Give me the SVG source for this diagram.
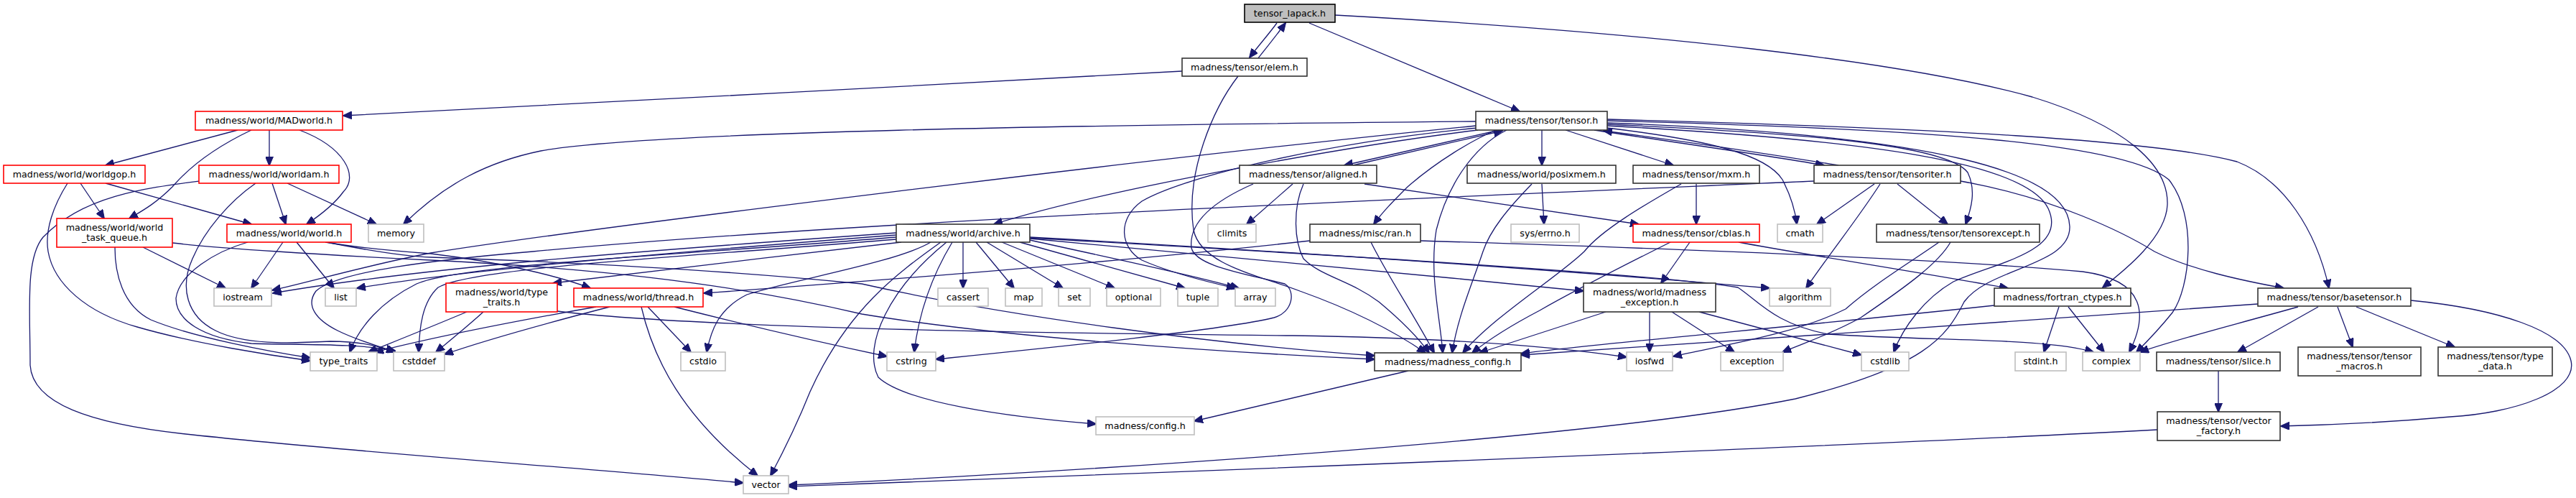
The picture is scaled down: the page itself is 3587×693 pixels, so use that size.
<svg xmlns="http://www.w3.org/2000/svg" width="3587" height="693" viewBox="0 0 3587 693">
<style>
.b{fill:#fff;stroke:#333;stroke-width:1.6}
.r{fill:#fff;stroke:#ff0000;stroke-width:1.6}
.g{fill:#fff;stroke:#bfbfbf;stroke-width:1.6}
.s{fill:#bfbfbf;stroke:#000;stroke-width:1.6}
text{font-family:"DejaVu Sans","Liberation Sans",sans-serif;font-size:12.7px;fill:#000;text-anchor:middle}
.e path{fill:none;stroke:#191970;stroke-width:1.3;marker-end:url(#a)}
</style>
<defs>
<marker id="a" markerWidth="13" markerHeight="11" refX="12" refY="5.5" orient="auto" markerUnits="userSpaceOnUse"><path d="M0,0 L13,5.5 L0,11 z" fill="#191970" stroke="#191970" stroke-width="1"/></marker>
</defs>
<rect width="3587" height="693" fill="#fff"/>
<g class="e" id="edges">
<path d="M1778,32 C1768,46 1752,64 1740,80"/>
<path d="M1752,81 C1763,67 1779,47 1790,32"/>
<path d="M1823,32 L2116,155"/>
<path d="M1859,21 C2300,45 2650,85 2830,135 C2960,175 3020,230 3018,285 C3016,330 2960,375 2928,400"/>
<path d="M1646,99 C1300,118 800,145 478,161"/>
<path d="M1724,106 C1690,150 1650,240 1662,320 C1672,370 1760,385 1810,405 C1880,430 1940,460 1985,491"/>
<path d="M2055,169 C1500,174 900,183 753,210 C680,225 620,255 562,312"/>
<path d="M2055,175 C1600,220 800,320 600,352 C520,367 440,390 379,404"/>
<path d="M2058,181 C1900,200 1550,260 1384,312"/>
<path d="M2057,178 C1850,198 1650,245 1590,280 C1555,305 1560,345 1590,362 C1630,380 1680,392 1720,401"/>
<path d="M2088,181 L1872,230"/>
<path d="M1884,230 L2092,182"/>
<path d="M2147,181 L2147,230"/>
<path d="M2180,181 L2330,230"/>
<path d="M2083,181 C2050,195 2000,225 1960,260 C1940,280 1925,295 1913,312"/>
<path d="M2098,181 C2050,205 2015,260 2000,320 C1990,380 2005,440 2009,491"/>
<path d="M2220,181 C2330,198 2440,213 2540,230"/>
<path d="M2560,230 C2450,212 2340,196 2233,182"/>
<path d="M2238,178 C2380,195 2460,215 2482,250 C2495,275 2500,295 2502,312"/>
<path d="M2238,173 C2500,185 2710,200 2740,240 C2752,265 2745,290 2737,312"/>
<path d="M2238,175 C2600,195 2820,225 2852,290 C2880,350 2780,365 2720,392 C2680,415 2650,455 2637,490"/>
<path d="M2238,171 C2700,188 2880,240 2882,315 C2884,370 2770,372 2735,420 C2710,470 2680,510 2500,555 C2200,615 1400,662 1098,675"/>
<path d="M2238,168 C2700,180 2960,200 3020,250 C3060,300 3050,400 3025,435 C3005,460 2990,475 2975,490"/>
<path d="M2238,166 C2700,178 3000,195 3115,225 C3180,250 3225,320 3243,401"/>
<path d="M1800,256 L1736,312"/>
<path d="M1815,256 C1800,290 1802,335 1815,360 C1840,385 1880,390 1920,420 C1950,445 1975,470 1990,491"/>
<path d="M1745,256 C1690,280 1655,310 1659,345 C1665,370 1730,380 1789,395 C1805,405 1800,435 1774,442 C1700,460 1450,485 1303,500"/>
<path d="M1900,256 L2282,312"/>
<path d="M2147,256 L2150,312"/>
<path d="M2133,256 C2100,290 2075,320 2065,350 C2050,395 2030,440 2022,491"/>
<path d="M2362,256 L2362,312"/>
<path d="M2341,256 C2290,285 2230,320 2206,350 C2170,385 2080,440 2037,491"/>
<path d="M2610,256 L2530,312"/>
<path d="M2618,256 C2590,300 2550,350 2515,401"/>
<path d="M2642,256 L2712,312"/>
<path d="M2730,252 C2860,275 2960,325 3000,350 C3050,375 3120,390 3180,401"/>
<path d="M2526,252 C2000,275 1200,307 742,350 C600,362 470,378 440,405 C425,425 440,445 470,460 C500,475 530,482 550,490"/>
<path d="M1248,324 C950,345 600,370 380,408"/>
<path d="M1248,327 C950,350 650,375 497,401"/>
<path d="M1248,330 C950,355 640,368 580,395 C530,420 500,455 487,490"/>
<path d="M1248,333 C950,358 660,372 610,400 C588,420 584,455 583,490"/>
<path d="M1255,337 C1100,355 900,378 770,394"/>
<path d="M1341,337 L1341,401"/>
<path d="M1359,337 L1412,401"/>
<path d="M1374,337 L1480,401"/>
<path d="M1395,337 L1552,401"/>
<path d="M1420,337 L1650,401"/>
<path d="M1434,334 C1550,360 1650,380 1725,401"/>
<path d="M1326,337 C1300,380 1280,430 1273,490"/>
<path d="M1296,337 C1250,365 1100,390 1040,410 C1000,430 990,460 984,490"/>
<path d="M1310,337 C1250,380 1180,430 1128,545 C1110,590 1090,630 1073,662"/>
<path d="M1318,337 C1240,400 1200,480 1223,525 C1260,560 1400,580 1526,590"/>
<path d="M1434,332 C1700,355 1950,380 2205,405"/>
<path d="M1434,330 C1800,350 2200,378 2464,401"/>
<path d="M1434,331 C1800,352 2300,380 2420,400 C2450,420 2470,450 2545,465 C2700,475 2850,470 2915,490"/>
<path d="M1824,335 C1600,360 1300,385 980,408"/>
<path d="M1909,337 C1930,380 1970,440 1997,491"/>
<path d="M1978,335 C2300,345 2700,360 2900,378 C2990,390 2990,440 2965,490"/>
<path d="M2326,337 C2280,360 2200,400 2144,432 C2100,455 2070,475 2050,491"/>
<path d="M2353,337 L2313,394"/>
<path d="M2421,337 C2500,352 2650,375 2796,401"/>
<path d="M2700,337 C2660,365 2610,395 2570,430 C2500,465 2400,480 2330,496"/>
<path d="M2716,337 C2700,365 2660,395 2591,442 C2550,465 2510,478 2482,490"/>
<path d="M2236,434 L2060,491"/>
<path d="M2297,434 L2297,490"/>
<path d="M2328,434 L2415,490"/>
<path d="M2366,434 L2592,494"/>
<path d="M2777,425 C2500,455 2250,475 2118,492"/>
<path d="M2867,427 L2846,490"/>
<path d="M2880,427 L2930,490"/>
<path d="M3228,427 L3116,490"/>
<path d="M3255,427 L3276,483"/>
<path d="M3281,427 L3418,483"/>
<path d="M3357,418 C3480,430 3570,460 3580,502 C3590,545 3500,575 3412,580 C3300,590 3220,592 3176,593"/>
<path d="M3144,423 C2900,440 2400,476 2118,494"/>
<path d="M3200,427 C3100,455 3020,475 2980,490"/>
<path d="M3089,516 L3089,573"/>
<path d="M3004,598 C2500,625 1500,662 1098,677"/>
<path d="M1961,516 C1850,542 1750,565 1663,586"/>
<path d="M830,427 C700,450 600,470 522,490"/>
<path d="M849,427 C760,450 680,472 619,493"/>
<path d="M902,427 L962,490"/>
<path d="M893,427 C910,500 950,580 1055,662"/>
<path d="M939,427 C1050,455 1150,478 1235,496"/>
<path d="M650,434 C600,455 550,475 513,490"/>
<path d="M673,434 C650,455 625,475 607,490"/>
<path d="M776,433 C1000,460 1600,465 1800,467 C2000,470 2150,480 2265,497"/>
<path d="M331,181 L147,230"/>
<path d="M350,181 C310,200 270,225 240,260 C215,285 195,295 180,304"/>
<path d="M375,181 L375,230"/>
<path d="M417,181 C480,205 500,245 478,267 C465,285 445,300 427,312"/>
<path d="M112,255 L145,304"/>
<path d="M147,255 L350,312"/>
<path d="M94,255 C75,285 62,320 67,350 C75,395 120,435 191,455 C270,478 380,495 432,502"/>
<path d="M160,344 C160,380 170,425 210,445 C270,470 380,490 432,498"/>
<path d="M379,255 L398,312"/>
<path d="M400,255 L524,312"/>
<path d="M277,252 C200,262 115,273 60,330 C35,360 42,430 42,508 C45,560 120,590 268,605 C500,630 800,650 1035,672"/>
<path d="M356,255 C320,280 285,320 268,360 C250,400 260,440 300,460 C340,480 400,478 460,475 C500,475 530,482 550,490"/>
<path d="M199,344 L314,401"/>
<path d="M240,338 C300,345 450,355 600,362 C800,372 1000,390 1200,437 C1400,470 1700,490 1914,500"/>
<path d="M394,337 L350,401"/>
<path d="M413,337 L465,401"/>
<path d="M453,337 C500,345 560,350 600,353 C700,365 780,385 822,401"/>
<path d="M345,337 C300,350 250,380 245,415 C245,445 280,470 350,478 C420,480 500,478 550,488"/>
<path d="M455,337 C520,350 570,357 600,358 C800,365 1000,375 1200,395 C1400,440 1700,480 1914,495"/>
</g>
<g id="n_lapack"><rect class="s" x="1733" y="6" width="126" height="25"/><text x="1796" y="23">tensor_lapack.h</text></g>
<g id="n_elem"><rect class="b" x="1646" y="81" width="174" height="25"/><text x="1733" y="98">madness/tensor/elem.h</text></g>
<g id="n_madworld"><rect class="r" x="272" y="155" width="205" height="26"/><text x="374.5" y="172">madness/world/MADworld.h</text></g>
<g id="n_tensor"><rect class="b" x="2055" y="155" width="183" height="26"/><text x="2146.5" y="172">madness/tensor/tensor.h</text></g>
<g id="n_worldgop"><rect class="r" x="5" y="230" width="197" height="25"/><text x="103.5" y="247">madness/world/worldgop.h</text></g>
<g id="n_worldam"><rect class="r" x="277" y="230" width="195" height="25"/><text x="374.5" y="247">madness/world/worldam.h</text></g>
<g id="n_aligned"><rect class="b" x="1726" y="230" width="191" height="25"/><text x="1821.5" y="247">madness/tensor/aligned.h</text></g>
<g id="n_posixmem"><rect class="b" x="2043" y="230" width="207" height="25"/><text x="2146.5" y="247">madness/world/posixmem.h</text></g>
<g id="n_mxm"><rect class="b" x="2274" y="230" width="176" height="25"/><text x="2362" y="247">madness/tensor/mxm.h</text></g>
<g id="n_tensoriter"><rect class="b" x="2526" y="230" width="204" height="25"/><text x="2628" y="247">madness/tensor/tensoriter.h</text></g>
<g id="n_wtq"><rect class="r" x="79" y="304" width="161" height="40"/><text x="159.5" y="321">madness/world/world</text><text x="159.5" y="335">_task_queue.h</text></g>
<g id="n_world"><rect class="r" x="316" y="312" width="173" height="25"/><text x="402.5" y="329">madness/world/world.h</text></g>
<g id="n_memory"><rect class="g" x="513" y="312" width="77" height="25"/><text x="551.5" y="329">memory</text></g>
<g id="n_archive"><rect class="b" x="1248" y="312" width="186" height="25"/><text x="1341" y="329">madness/world/archive.h</text></g>
<g id="n_climits"><rect class="g" x="1682" y="312" width="67" height="25"/><text x="1715.5" y="329">climits</text></g>
<g id="n_ran"><rect class="b" x="1824" y="312" width="154" height="25"/><text x="1901" y="329">madness/misc/ran.h</text></g>
<g id="n_errno"><rect class="g" x="2104" y="312" width="95" height="25"/><text x="2151.5" y="329">sys/errno.h</text></g>
<g id="n_cblas"><rect class="r" x="2274" y="312" width="176" height="25"/><text x="2362" y="329">madness/tensor/cblas.h</text></g>
<g id="n_cmath"><rect class="g" x="2475" y="312" width="63" height="25"/><text x="2506.5" y="329">cmath</text></g>
<g id="n_tensorexcept"><rect class="b" x="2613" y="312" width="227" height="25"/><text x="2726.5" y="329">madness/tensor/tensorexcept.h</text></g>
<g id="n_iostream"><rect class="g" x="298" y="401" width="80" height="25"/><text x="338" y="418">iostream</text></g>
<g id="n_list"><rect class="g" x="453" y="401" width="43" height="25"/><text x="474.5" y="418">list</text></g>
<g id="n_wtypetraits"><rect class="r" x="621" y="394" width="155" height="40"/><text x="698.5" y="411">madness/world/type</text><text x="698.5" y="425">_traits.h</text></g>
<g id="n_thread"><rect class="r" x="799" y="401" width="180" height="26"/><text x="889" y="418">madness/world/thread.h</text></g>
<g id="n_cassert"><rect class="g" x="1306" y="401" width="70" height="25"/><text x="1341" y="418">cassert</text></g>
<g id="n_map"><rect class="g" x="1400" y="401" width="51" height="25"/><text x="1425.5" y="418">map</text></g>
<g id="n_set"><rect class="g" x="1474" y="401" width="44" height="25"/><text x="1496" y="418">set</text></g>
<g id="n_optional"><rect class="g" x="1541" y="401" width="75" height="25"/><text x="1578.5" y="418">optional</text></g>
<g id="n_tuple"><rect class="g" x="1640" y="401" width="56" height="25"/><text x="1668" y="418">tuple</text></g>
<g id="n_array"><rect class="g" x="1720" y="401" width="56" height="25"/><text x="1748" y="418">array</text></g>
<g id="n_mexc"><rect class="b" x="2205" y="394" width="184" height="40"/><text x="2297" y="411">madness/world/madness</text><text x="2297" y="425">_exception.h</text></g>
<g id="n_algorithm"><rect class="g" x="2464" y="401" width="85" height="25"/><text x="2506.5" y="418">algorithm</text></g>
<g id="n_fortran"><rect class="b" x="2777" y="401" width="190" height="25"/><text x="2872" y="418">madness/fortran_ctypes.h</text></g>
<g id="n_basetensor"><rect class="b" x="3144" y="401" width="213" height="25"/><text x="3250.5" y="418">madness/tensor/basetensor.h</text></g>
<g id="n_type_traits"><rect class="g" x="432" y="490" width="93" height="26"/><text x="478.5" y="507">type_traits</text></g>
<g id="n_cstddef"><rect class="g" x="548" y="490" width="71" height="26"/><text x="583.5" y="507">cstddef</text></g>
<g id="n_cstdio"><rect class="g" x="948" y="490" width="62" height="26"/><text x="979" y="507">cstdio</text></g>
<g id="n_cstring"><rect class="g" x="1235" y="490" width="68" height="26"/><text x="1269" y="507">cstring</text></g>
<g id="n_mconfig"><rect class="b" x="1914" y="491" width="204" height="25"/><text x="2016" y="508">madness/madness_config.h</text></g>
<g id="n_iosfwd"><rect class="g" x="2265" y="490" width="64" height="26"/><text x="2297" y="507">iosfwd</text></g>
<g id="n_exception"><rect class="g" x="2396" y="490" width="87" height="26"/><text x="2439.5" y="507">exception</text></g>
<g id="n_cstdlib"><rect class="g" x="2592" y="490" width="66" height="26"/><text x="2625" y="507">cstdlib</text></g>
<g id="n_stdint"><rect class="g" x="2806" y="490" width="71" height="26"/><text x="2841.5" y="507">stdint.h</text></g>
<g id="n_complex"><rect class="g" x="2900" y="490" width="80" height="26"/><text x="2940" y="507">complex</text></g>
<g id="n_slice"><rect class="b" x="3003" y="490" width="172" height="26"/><text x="3089" y="507">madness/tensor/slice.h</text></g>
<g id="n_tmacros"><rect class="b" x="3200" y="483" width="171" height="40"/><text x="3285.5" y="500">madness/tensor/tensor</text><text x="3285.5" y="514">_macros.h</text></g>
<g id="n_typedata"><rect class="b" x="3395" y="483" width="159" height="40"/><text x="3474.5" y="500">madness/tensor/type</text><text x="3474.5" y="514">_data.h</text></g>
<g id="n_config"><rect class="g" x="1526" y="580" width="137" height="25"/><text x="1594.5" y="597">madness/config.h</text></g>
<g id="n_vfactory"><rect class="b" x="3004" y="573" width="171" height="40"/><text x="3089.5" y="590">madness/tensor/vector</text><text x="3089.5" y="604">_factory.h</text></g>
<g id="n_vector"><rect class="g" x="1035" y="662" width="63" height="25"/><text x="1066.5" y="679">vector</text></g>
</svg>
